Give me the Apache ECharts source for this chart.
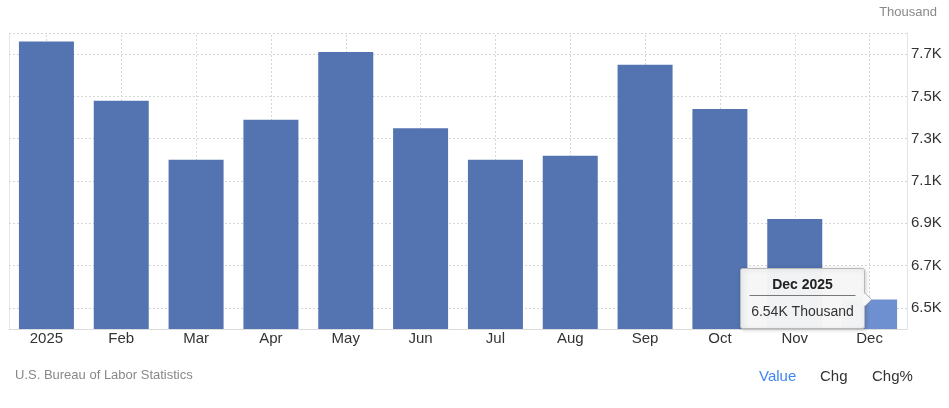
<!DOCTYPE html>
<html>
<head>
<meta charset="utf-8">
<script src="https://cdn.jsdelivr.net/npm/echarts@6/dist/echarts.min.js"></script>
<style>
  html, body { margin: 0; padding: 0; background: #fff; }
  #chart { width: 949px; height: 408px; }
</style>
</head>
<body>
<div id="chart"></div>
<script>
// Data (values in thousands)
const categories = ['2025', 'Feb', 'Mar', 'Apr', 'May', 'Jun', 'Jul', 'Aug', 'Sep', 'Oct', 'Nov', 'Dec'];
const values = [7.76, 7.48, 7.20, 7.39, 7.71, 7.35, 7.20, 7.22, 7.65, 7.44, 6.92, 6.54];
const yTicks = [6.5, 6.7, 6.9, 7.1, 7.3, 7.5, 7.7];
const yTop = 7.8;
const unitLabel = 'Thousand';
const sourceLabel = 'U.S. Bureau of Labor Statistics';
const tabs = ['Value', 'Chg', 'Chg%'];
const highlightIndex = 11;
const highlightTitle = 'Dec 2025';

const FONT = '"Liberation Sans", Arial, Helvetica, sans-serif';
const gridLine = { type: [2, 2], color: '#d6d6d6', width: 1 };

const chart = echarts.init(document.getElementById('chart'), null, { renderer: 'canvas' });

const barData = values.map((v, i) => i === highlightIndex
  ? { value: v, itemStyle: { color: '#6e8fd0' } }
  : v);

const baseGraphic = [
  {
    type: 'text', right: 12, top: 6,
    style: { text: unitLabel, fill: '#8a8a8a', font: '13px ' + FONT }
  },
  {
    type: 'text', left: 15, top: 369,
    style: { text: sourceLabel, fill: '#888', font: '13px ' + FONT }
  },
  {
    type: 'text', left: 759, top: 369,
    style: { text: tabs[0], fill: '#3f86f2', font: '15px ' + FONT }
  },
  {
    type: 'text', left: 820, top: 369,
    style: { text: tabs[1], fill: '#333', font: '15px ' + FONT }
  },
  {
    type: 'text', left: 872, top: 369,
    style: { text: tabs[2], fill: '#333', font: '15px ' + FONT }
  }
];

const option = {
  animation: false,
  grid: { left: 9, right: 42, top: 33, bottom: 79, containLabel: false },
  xAxis: {
    type: 'category',
    data: categories,
    boundaryGap: true,
    axisLine: { show: true, lineStyle: { color: '#dcdcdc', width: 1 } },
    axisTick: { show: false },
    splitLine: { show: false },
    axisLabel: { color: '#333', fontSize: 15, fontFamily: FONT, margin: 2, interval: 0 }
  },
  yAxis: [
    {
      type: 'value',
      position: 'right',
      min: 6.4,
      max: yTop,
      interval: 0.1,
      axisLine: { show: true, lineStyle: { color: '#e4e4e4', width: 1 } },
      axisTick: { show: false },
      splitLine: { show: false },
      axisLabel: {
        color: '#333', fontSize: 15, fontFamily: FONT, margin: 4,
        padding: [0, 0, 4, 0],
        showMinLabel: false, showMaxLabel: false,
        formatter: function (v) {
          const hit = yTicks.find(t => Math.abs(t - v) < 1e-6);
          return hit !== undefined ? hit.toFixed(1) + 'K' : '';
        }
      }
    },
    {
      type: 'value',
      position: 'left',
      min: 6.4,
      max: yTop,
      interval: 0.1,
      axisLine: { show: true, lineStyle: { color: '#e4e4e4', width: 1 } },
      axisTick: { show: false },
      axisLabel: { show: false },
      splitLine: { show: false }
    }
  ],
  series: [
    {
      type: 'line',
      data: [],
      z: 0,
      silent: true,
      markLine: {
        z: 0,
        silent: true,
        symbol: ['none', 'none'],
        label: { show: false },
        lineStyle: gridLine,
        emphasis: { disabled: true },
        data: yTicks.concat([yTop]).map(t => ({ yAxis: t }))
          .concat(categories.map((c, i) => ({ xAxis: i })))
      }
    },
    {
      type: 'bar',
      data: barData,
      barWidth: 55,
      z: 2,
      itemStyle: { color: '#5474b1' }
    }
  ],
  graphic: baseGraphic
};

chart.setOption(option);

// Tooltip box drawn next to the highlighted bar
const barPt = chart.convertToPixel({ xAxisIndex: 0, yAxisIndex: 0 }, [highlightIndex, values[highlightIndex]]);
const boxW = 124, boxH = 60;
const boxX = Math.round(barPt[0] - 6 - boxW) + 0.5;
const boxY = Math.round(barPt[1] - 31) + 0.5;
const ZT = 100;
chart.setOption({
  graphic: baseGraphic.concat([
    {
      type: 'rect', x: boxX, y: boxY, z: ZT, shape: { x: 0, y: 0, width: boxW, height: boxH, r: 2 },
      style: { fill: 'rgba(247,247,247,0.97)', stroke: '#b8b8b8', lineWidth: 1,
               shadowBlur: 4, shadowColor: 'rgba(0,0,0,0.18)', shadowOffsetX: 1, shadowOffsetY: 1 }
    },
    {
      type: 'polygon', x: boxX, y: boxY, z: ZT + 1,
      shape: { points: [[boxW, 24], [boxW + 7, 31], [boxW, 38]] },
      style: { fill: 'rgba(247,247,247,1)', stroke: '#b8b8b8', lineWidth: 1 }
    },
    {
      type: 'rect', x: boxX, y: boxY, z: ZT + 2, shape: { x: boxW - 2, y: 25, width: 2.5, height: 12 },
      style: { fill: 'rgba(247,247,247,1)' }
    },
    {
      type: 'text', x: boxX + boxW / 2, y: boxY + 17, z: ZT + 3,
      style: { text: highlightTitle, fill: '#222', font: 'bold 14px ' + FONT, align: 'center', verticalAlign: 'middle' }
    },
    {
      type: 'line', x: boxX, y: boxY, z: ZT + 3, shape: { x1: 9, y1: 27, x2: boxW - 9, y2: 27 },
      style: { stroke: '#777', lineWidth: 1 }
    },
    {
      type: 'text', x: boxX + boxW / 2, y: boxY + 44, z: ZT + 3,
      style: { text: values[highlightIndex].toFixed(2) + 'K ' + unitLabel, fill: '#333', font: '14px ' + FONT, align: 'center', verticalAlign: 'middle' }
    }
  ])
});
</script>
</body>
</html>
